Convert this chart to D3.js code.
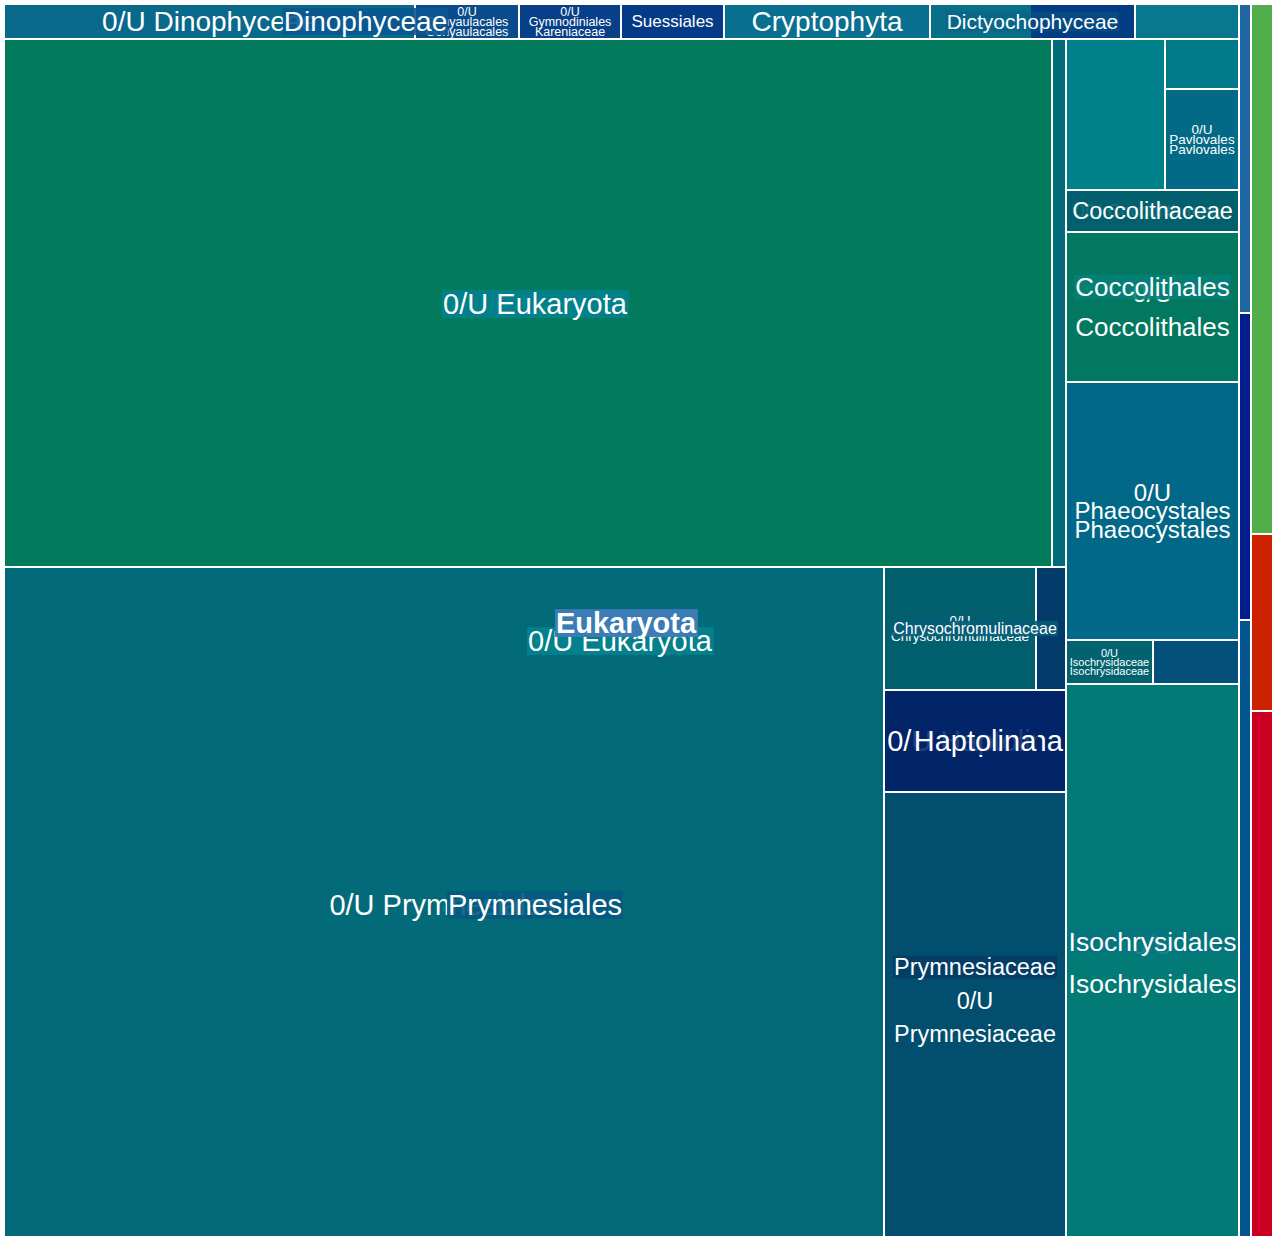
<!DOCTYPE html>
<html>
<head>
<meta charset="utf-8">
<script src="https://cdn.jsdelivr.net/npm/d3@7"></script>
<style>
  body { margin: 0; background: #fff; }
  svg text { font-family: Arial, "Liberation Sans", sans-serif; fill: #fff; }
</style>
</head>
<body>
<svg id="chart"></svg>
<script>
// treemap nodes: id, parent, count (groups carry 0, leaves carry the value)
const ids = [
  "root", "main", "col-b", "col-c",
  "top-row", "body",
  "0/U Dinophyceae", "Gonyaulacales", "Gymnodiniales", "Suessiales", "Cryptophyta", "Dictyochophyceae", "top-row other",
  "body-left", "body-right",
  "left-upper", "left-lower",
  "0/U Eukaryota", "left-upper other",
  "0/U Prymnesiales", "left-lower side",
  "side-upper", "Chrysochromulinaceae", "side-upper other",
  "Haptolina", "Prymnesiaceae",
  "right-upper", "right-upper other A", "right-upper stack", "right-upper other B", "Pavlovales",
  "Coccolithaceae", "Coccolithales", "Phaeocystales",
  "iso-row", "Isochrysidaceae", "iso-row other",
  "Isochrysidales",
  "col-b 1", "col-b 2", "col-b 3",
  "col-c 1", "col-c 2", "col-c 3"
];
const parents = [
  "", "root", "root", "root",
  "main", "main",
  "top-row", "top-row", "top-row", "top-row", "top-row", "top-row", "top-row",
  "body", "body",
  "body-left", "body-left",
  "left-upper", "left-upper",
  "left-lower", "left-lower",
  "left-lower side", "side-upper", "side-upper",
  "left-lower side", "left-lower side",
  "body-right", "right-upper", "right-upper", "right-upper stack", "right-upper stack",
  "body-right", "body-right", "body-right",
  "body-right", "iso-row", "iso-row",
  "body-right",
  "col-b", "col-b", "col-b",
  "col-c", "col-c", "col-c"
];
const values = [
  0, 0, 0, 0,
  0, 0,
  143.9, 36.4, 35.7, 36.1, 72.1, 71.8, 36.4,
  0, 0,
  0, 0,
  5533, 73.9,
  5896, 0,
  0, 186.3, 37.5,
  185.6, 809.9,
  0, 149.5, 0, 37, 74.7,
  72.7, 259.5, 446.3,
  0, 38.3, 37.8,
  956.7,
  37.1, 36.8, 74.1,
  116.6, 38.9, 115.7
];

// cell colours
const colors = {
  "0/U Dinophyceae": "#09698a", "Gonyaulacales": "#0a4b8b", "Gymnodiniales": "#073f88",
  "Suessiales": "#053a86", "Cryptophyta": "#0a7090", "Dictyochophyceae": "url(#split-dictyo)",
  "top-row other": "#08788e",
  "0/U Eukaryota": "#027a5c", "left-upper other": "#026a78",
  "0/U Prymnesiales": "#026a78",
  "Chrysochromulinaceae": "#02606e", "side-upper other": "#023a6a",
  "Haptolina": "#022468", "Prymnesiaceae": "#024e6e",
  "right-upper other A": "#00808a", "right-upper other B": "#007a88", "Pavlovales": "#026a86",
  "Coccolithaceae": "#02606e", "Coccolithales": "#027860", "Phaeocystales": "#026888",
  "Isochrysidaceae": "#02626e", "iso-row other": "#03507a",
  "Isochrysidales": "#027a76",
  "col-b 1": "#1e66a4", "col-b 2": "#021e8e", "col-b 3": "#03548f",
  "col-c 1": "#52ae4a", "col-c 2": "#cc2200", "col-c 3": "#cc0022"
};

// labels: main lines are clipped to the cell, overlays float on top with a box behind
const labelSpec = {
  "0/U Dinophyceae": {main: {lines: ["0/U Dinophyceae"], size: 28},
    over: [{text: "Dinophyceae", size: 28, dx: 156, bg: "#0b5790", op: 0.9}]},
  "Gonyaulacales": {main: {lines: ["0/U", "Gonyaulacales", "Gonyaulacales"], size: 12.5, lh: 10}},
  "Gymnodiniales": {main: {lines: ["0/U", "Gymnodiniales", "Kareniaceae"], size: 12.5, lh: 10}},
  "Suessiales": {main: {lines: ["Suessiales"], size: 17}},
  "Cryptophyta": {main: {lines: ["Cryptophyta"], size: 28}},
  "Dictyochophyceae": {over: [{text: "Dictyochophyceae", size: 21, bg: "#0b5a88", op: 0.45}]},
  "0/U Eukaryota": {over: [{text: "0/U Eukaryota", size: 29, dx: 7, dy: 1, bg: "#02828c", op: 0.95}]},
  "0/U Prymnesiales": {main: {lines: ["0/U Prymnesiales"], size: 29, dx: -1, dy: 3},
    over: [
      {text: "Prymnesiales", size: 29, dx: 91, dy: 3, bg: "#055a80", op: 0.9},
      {text: "0/U Eukaryota", size: 29, dx: 176, dy: -261, bg: "#02828c", op: 0.95},
      {text: "Eukaryota", size: 29, dx: 182, dy: -279, bg: "#3b7bb6", op: 1, bold: true}
    ]},
  "Chrysochromulinaceae": {main: {lines: ["0/U", "Chrysochromulinaceae"], size: 13.5, lh: 16},
    over: [{text: "Chrysochromulinaceae", size: 16, dx: 15, bg: "#065c78", op: 0.9}]},
  "Haptolina": {main: {lines: ["0/U Haptolina"], size: 29},
    over: [{text: "Haptolina", size: 29, bg: "#022468", op: 0.88}]},
  "Prymnesiaceae": {main: {lines: ["0/U", "Prymnesiaceae"], size: 23.5, lh: 33, dy: 3},
    over: [{text: "Prymnesiaceae", size: 23.5, dy: -47.5, bg: "#043c64", op: 0.9}]},
  "Pavlovales": {main: {lines: ["0/U", "Pavlovales", "Pavlovales"], size: 13.5, lh: 10}},
  "Coccolithaceae": {main: {lines: ["0/U Coccolithaceae"], size: 18},
    over: [{text: "Coccolithaceae", size: 23.5, bg: "#02606e", op: 0.9}]},
  "Coccolithales": {main: {lines: ["0/U", "Coccolithales"], size: 26, lh: 34, dy: 3},
    over: [{text: "Coccolithales", size: 26, dy: -20, bg: "#048079", op: 0.9}]},
  "Phaeocystales": {main: {lines: ["0/U", "Phaeocystales", "Phaeocystales"], size: 24, lh: 18.5}},
  "Isochrysidaceae": {main: {lines: ["0/U", "Isochrysidaceae", "Isochrysidaceae"], size: 11, lh: 9}},
  "Isochrysidales": {main: {lines: ["0/U", "Isochrysidales"], size: 26.5, lh: 39, dy: 3.5},
    over: [{text: "Isochrysidales", size: 26.5, dy: -18.5, bg: "#067680", op: 0.9}]}
};

class Treemap {

  constructor(_config) {
    this.config = {
      parentElement: _config.parentElement,
      containerWidth: _config.containerWidth || 1280,
      containerHeight: _config.containerHeight || 1236,
      width: 1269,
      height: 1233,
      margin: {top: 4, left: 4}
    };
    this.initVis();
  }

  initVis() {
    let vis = this;

    vis.svg = d3.select(vis.config.parentElement)
      .attr('width', vis.config.containerWidth)
      .attr('height', vis.config.containerHeight);

    // two-tone fill for the Dictyochophyceae cell
    const grad = vis.svg.append('defs').append('linearGradient').attr('id', 'split-dictyo');
    grad.append('stop').attr('offset', '49.5%').attr('stop-color', '#077088');
    grad.append('stop').attr('offset', '49.5%').attr('stop-color', '#023c82');

    vis.chart = vis.svg.append('g')
      .attr('transform', `translate(${vis.config.margin.left},${vis.config.margin.top})`);

    vis.table = ids.map((id, i) => ({id: id, parent: parents[i] || null, value: values[i]}));

    vis.root = d3.stratify().id(d => d.id).parentId(d => d.parent)(vis.table)
      .sum(d => d.value);

    // odd depth = slice, even depth = dice
    d3.treemap()
      .tile(d3.treemapSliceDice)
      .size([vis.config.width, vis.config.height])
      .paddingInner(2)
      .paddingOuter(d => d.depth === 0 ? 1 : 0)
      .round(true)(vis.root);

    vis.renderVis();
  }

  renderVis() {
    let vis = this;
    const leaves = vis.root.leaves();

    const cells = vis.chart.selectAll('g.cell')
      .data(leaves)
      .join('g')
      .attr('class', 'cell')
      .attr('transform', d => `translate(${d.x0},${d.y0})`);

    cells.append('clipPath')
      .attr('id', (d, i) => 'clip-' + i)
      .append('rect')
      .attr('width', d => d.x1 - d.x0)
      .attr('height', d => d.y1 - d.y0);

    cells.append('rect')
      .attr('width', d => d.x1 - d.x0)
      .attr('height', d => d.y1 - d.y0)
      .attr('fill', d => colors[d.id] || '#026a78');

    const drawText = (g, lines, o, cx, cy) => {
      const t = g.append('text')
        .attr('text-anchor', 'middle')
        .style('font-size', o.size + 'px')
        .style('font-weight', o.bold ? 'bold' : 'normal');
      const lh = o.lh || o.size * 1.1;
      lines.forEach((s, k) => {
        t.append('tspan')
          .attr('x', cx)
          .attr('y', cy + (k - (lines.length - 1) / 2) * lh)
          .attr('dy', '0.35em')
          .text(s);
      });
      return t;
    };

    // main labels, clipped to their cell
    cells.each(function(d, i) {
      const spec = labelSpec[d.id];
      if (!spec || !spec.main) return;
      const g = d3.select(this).append('g').attr('clip-path', `url(#clip-${i})`);
      const m = spec.main;
      drawText(g, m.lines, m, (d.x1 - d.x0) / 2 + (m.dx || 0), (d.y1 - d.y0) / 2 + (m.dy || 0));
    });

    // floating labels with a box behind, drawn above every cell
    const overLayer = vis.chart.append('g').attr('class', 'overlays');
    leaves.forEach(d => {
      const spec = labelSpec[d.id];
      if (!spec || !spec.over) return;
      spec.over.forEach(o => {
        const cx = (d.x0 + d.x1) / 2 + (o.dx || 0);
        const cy = (d.y0 + d.y1) / 2 + (o.dy || 0);
        const g = overLayer.append('g');
        const t = drawText(g, [o.text], o, cx, cy);
        const bb = t.node().getBBox();
        g.insert('rect', 'text')
          .attr('x', bb.x - 1)
          .attr('y', cy - o.size * 0.48)
          .attr('width', bb.width + 2)
          .attr('height', o.size * 0.96)
          .attr('fill', o.bg)
          .attr('fill-opacity', o.op);
      });
    });
  }
}

new Treemap({parentElement: '#chart'});
</script>
</body>
</html>
